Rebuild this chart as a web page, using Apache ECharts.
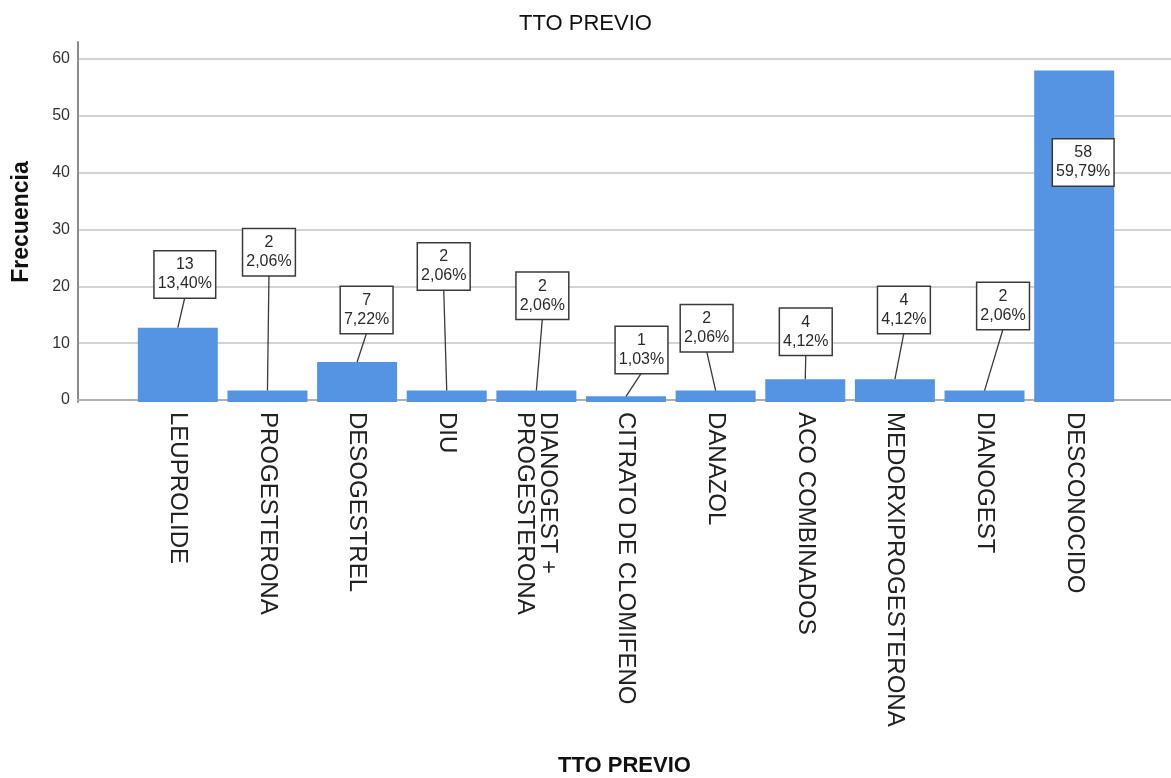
<!DOCTYPE html>
<html>
<head>
<meta charset="utf-8">
<title>TTO PREVIO</title>
<script src="https://cdn.jsdelivr.net/npm/echarts@6/dist/echarts.min.js"></script>
<style>
  html, body { margin: 0; padding: 0; background: #ffffff; }
  #chart { width: 1171px; height: 778px; }
</style>
</head>
<body>
<div id="chart"></div>
<script>
// Treatment categories and patient counts
const categories = [
  'LEUPROLIDE',
  'PROGESTERONA',
  'DESOGESTREL',
  'DIU',
  'DIANOGEST +\nPROGESTERONA',
  'CITRATO DE CLOMIFENO',
  'DANAZOL',
  'ACO COMBINADOS',
  'MEDORXIPROGESTERONA',
  'DIANOGEST',
  'DESCONOCIDO'
];
const counts = [13, 2, 7, 2, 2, 1, 2, 4, 4, 2, 58];

// Value axis ticks
const yMin = 0;
const yMax = 60;
const yStep = 10;

// Callout placement: height of each box centre (axis units) and sideways nudge (px)
const calloutLevel = [22.3, 26.2, 16.1, 23.7, 18.6, 9.1, 12.9, 12.3, 16.1, 16.8, 41.9];
const calloutNudge = [7, 1.5, 9.5, -3, 6, 15.5, -9, 0.5, 9, 18.5, 9];

const total = counts.reduce((a, b) => a + b, 0);
const pct = n => (n / total * 100).toFixed(2).replace('.', ',') + '%';

const FONT = "'Liberation Sans', Arial, Helvetica, sans-serif";
const BOX_LINE_H = 19;
const BOX_PAD = [4, 3];
const BOX_H = BOX_LINE_H * 2 + BOX_PAD[0] * 2;

function renderCallout(params, api) {
  const i = api.value(0);
  const n = api.value(1);
  const level = api.value(2);
  const nudge = api.value(3);
  const barTop = api.coord([i, n]);
  const anchor = api.coord([i, level]);
  const cx = anchor[0] + nudge;
  const cy = anchor[1];
  const children = [];
  if (cy + BOX_H / 2 < barTop[1]) {
    children.push({
      type: 'line',
      shape: { x1: cx, y1: cy + BOX_H / 2, x2: barTop[0], y2: barTop[1] },
      style: { stroke: '#3a3a3a', lineWidth: 1.3 }
    });
  }
  children.push({
    type: 'text',
    x: cx,
    y: cy,
    style: {
      text: n + '\n' + pct(n),
      align: 'center',
      verticalAlign: 'middle',
      font: '16px ' + FONT,
      lineHeight: BOX_LINE_H,
      fill: '#2b2b2b',
      backgroundColor: '#ffffff',
      borderColor: '#3a3a3a',
      borderWidth: 1.5,
      padding: BOX_PAD
    }
  });
  return { type: 'group', children: children };
}

const chart = echarts.init(document.getElementById('chart'), null, { renderer: 'canvas' });

chart.setOption({
  animation: false,
  backgroundColor: '#ffffff',
  textStyle: { fontFamily: FONT },
  title: {
    text: 'TTO PREVIO',
    left: 'center',
    top: 8,
    textStyle: { fontSize: 22, fontWeight: 'normal', color: '#111111', fontFamily: FONT }
  },
  grid: [
    // full-width frame: gridlines, tick labels, baseline
    { left: 78, right: 0, top: 59, bottom: 376 },
    // bars
    { left: 133, right: 52, top: 59, bottom: 376 },
    // tall value-axis line with its title
    { left: 78, width: 1, top: 42, bottom: 376 }
  ],
  xAxis: [
    {
      gridIndex: 0,
      type: 'value',
      min: 0,
      max: 1,
      axisLine: { show: true, lineStyle: { color: '#b0b0b0', width: 2 } },
      axisTick: { show: false },
      axisLabel: { show: false },
      splitLine: { show: false },
      name: 'TTO PREVIO',
      nameLocation: 'middle',
      nameGap: 355,
      nameTextStyle: { fontSize: 22, fontWeight: 'bold', color: '#111111', fontFamily: FONT }
    },
    {
      gridIndex: 1,
      type: 'category',
      data: categories,
      axisLine: { show: false },
      axisTick: { show: false },
      axisLabel: {
        rotate: -90,
        margin: 10,
        fontSize: 24,
        lineHeight: 23,
        color: '#222222',
        fontFamily: FONT,
        interval: 0
      }
    },
    {
      gridIndex: 2,
      type: 'value',
      show: false
    }
  ],
  yAxis: [
    {
      gridIndex: 0,
      type: 'value',
      min: yMin,
      max: yMax,
      interval: yStep,
      axisLine: { show: false },
      axisTick: { show: false },
      axisLabel: { margin: 8, fontSize: 16, color: '#333333', fontFamily: FONT },
      splitLine: { show: true, lineStyle: { color: '#d2d2d2', width: 2 } }
    },
    {
      gridIndex: 1,
      type: 'value',
      min: yMin,
      max: yMax,
      show: false
    },
    {
      gridIndex: 2,
      type: 'value',
      min: 0,
      max: 63,
      axisLine: { show: true, lineStyle: { color: '#8c8c8c', width: 2 } },
      axisTick: { show: false },
      axisLabel: { show: false },
      splitLine: { show: false },
      name: 'Frecuencia',
      nameLocation: 'middle',
      nameRotate: 90,
      nameGap: 45,
      nameTextStyle: { fontSize: 23, fontWeight: 'bold', color: '#111111', fontFamily: FONT }
    }
  ],
  series: [
    {
      type: 'bar',
      xAxisIndex: 1,
      yAxisIndex: 1,
      data: counts,
      barWidth: 80,
      itemStyle: { color: '#5594E2' },
      z: 2
    },
    {
      type: 'custom',
      xAxisIndex: 1,
      yAxisIndex: 1,
      data: counts.map((n, i) => [i, n, calloutLevel[i], calloutNudge[i]]),
      renderItem: renderCallout,
      z: 10,
      silent: true
    }
  ]
});
</script>
</body>
</html>
